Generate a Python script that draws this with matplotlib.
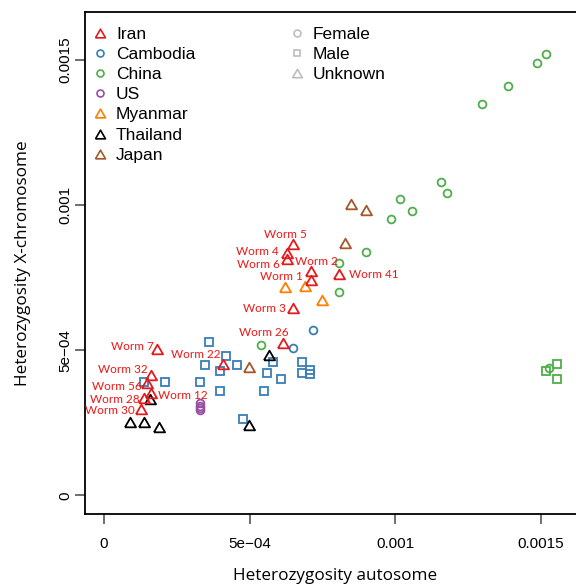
import matplotlib
matplotlib.use("Agg")
import matplotlib.pyplot as plt
from matplotlib.lines import Line2D
from matplotlib.ticker import FixedLocator, FixedFormatter

plt.rcParams['font.family'] = ['Liberation Sans', 'DejaVu Sans']

# ---------------- data ----------------
countries = ["Iran", "Cambodia", "China", "US", "Myanmar", "Thailand", "Japan"]
country_colors = {"Iran": "#E41A1C", "Cambodia": "#377EB8", "China": "#4DAF4A",
                  "US": "#984EA3", "Myanmar": "#FF7F00", "Thailand": "#000000",
                  "Japan": "#A65628"}
sexes = ["Female", "Male", "Unknown"]

# Iran (sex unknown, labelled worms)
iran_labels = ["Worm 5", "Worm 4", "Worm 6", "Worm 2", "Worm 1", "Worm 41", "Worm 3",
               "Worm 26", "Worm 7", "Worm 22", "Worm 32", "Worm 56", "Worm 12",
               "Worm 28", "Worm 30"]
iran_auto = [0.000650, 0.000629, 0.000629, 0.000710, 0.000711, 0.000808, 0.000649,
             0.000616, 0.000182, 0.000408, 0.000161, 0.000149, 0.000161,
             0.000138, 0.000129]
iran_x = [0.000865, 0.000834, 0.000814, 0.000774, 0.000742, 0.000763, 0.000645,
          0.000524, 0.000503, 0.000453, 0.000415, 0.000386, 0.000354,
          0.000335, 0.000297]

myanmar_auto = [0.000621, 0.000689, 0.000748]
myanmar_x = [0.000719, 0.000721, 0.000673]

japan_auto = [0.000848, 0.000899, 0.000827, 0.000499]
japan_x = [0.001004, 0.000983, 0.000871, 0.000441]

thailand_auto = [0.0000902, 0.000139, 0.000190, 0.000159, 0.000568, 0.000499]
thailand_x = [0.000253, 0.000253, 0.000235, 0.000332, 0.000485, 0.000243]

china_f_auto = [0.001515, 0.001486, 0.001386, 0.001297, 0.001156, 0.001176, 0.001017,
                0.001057, 0.000986, 0.000898, 0.000808, 0.000808, 0.000539, 0.001526]
china_f_x = [0.001521, 0.001491, 0.001410, 0.001349, 0.001080, 0.001041, 0.001020,
             0.000981, 0.000951, 0.000839, 0.000800, 0.000702, 0.000518, 0.000438]
china_m_auto = [0.001515, 0.001555, 0.001555]
china_m_x = [0.000430, 0.000452, 0.000400]

cambodia_f_auto = [0.000719, 0.000648]
cambodia_f_x = [0.000570, 0.000509]
cambodia_m_auto = [0.000360, 0.000419, 0.000348, 0.000458, 0.000400, 0.000210, 0.000139,
                   0.000330, 0.000400, 0.000550, 0.000559, 0.000579, 0.000608, 0.000679,
                   0.000679, 0.000707, 0.000707, 0.000479]
cambodia_m_x = [0.000529, 0.000480, 0.000450, 0.000450, 0.000430, 0.000390, 0.000390,
                0.000390, 0.000361, 0.000361, 0.000421, 0.000459, 0.000400, 0.000459,
                0.000421, 0.000432, 0.000417, 0.000262]

us_f_auto = [0.000330, 0.000330, 0.000330, 0.000330]
us_f_x = [0.000318, 0.000308, 0.000301, 0.000294]

xticks = [0, 0.0005, 0.001, 0.0015]
xtick_labels = ["0", "5e\u221204", "0.001", "0.0015"]
yticks = [0, 0.0005, 0.001, 0.0015]
ytick_labels = ["0", "5e\u221204", "0.001", "0.0015"]

# label offsets (points) for the Iran worm names -- layout only
label_offsets = {"Worm 5": (-5.3, 7.2), "Worm 4": (-21.6, 1.2), "Worm 6": (-20.6, -3.6),
                 "Worm 2": (3.8, 6.8), "Worm 1": (-21.6, 2.9), "Worm 41": (24.8, -0.7),
                 "Worm 3": (-20.4, 0), "Worm 26": (-13.9, 7.6), "Worm 7": (-17.3, 1.9),
                 "Worm 22": (-19.2, 6.5), "Worm 32": (-19.7, 3.6), "Worm 56": (-22, -1.9),
                 "Worm 12": (23, -2.4), "Worm 28": (-20.9, -1), "Worm 30": (-22.5, -1)}

# ---------------- figure ----------------
W, H = 576, 584
fig = plt.figure(figsize=(W / 100, H / 100), dpi=100)
ax = fig.add_axes([85 / W, (H - 514) / H, 504 / W, 501.6 / H])
ax.set_xlim(-0.000064, 0.001664)
ax.set_ylim(-0.000064, 0.001664)

tri = [(-1, -0.866), (1, -0.866), (0, 0.866), (-1, -0.866)]
MARK = {"Female": "o", "Male": "s", "Unknown": tri}
MS = {"Female": 5.6, "Male": 5.4, "Unknown": 8.0}
MEW = 1.3


def pts(xs, ys, country, sex):
    ax.plot(xs, ys, ls="none", marker=MARK[sex], ms=MS[sex], mfc="none",
            mec=country_colors[country], mew=MEW, clip_on=False)


pts(cambodia_m_auto, cambodia_m_x, "Cambodia", "Male")
pts(cambodia_f_auto, cambodia_f_x, "Cambodia", "Female")
pts(china_f_auto, china_f_x, "China", "Female")
pts(china_m_auto, china_m_x, "China", "Male")
pts(us_f_auto, us_f_x, "US", "Female")
pts(thailand_auto, thailand_x, "Thailand", "Unknown")
pts(japan_auto, japan_x, "Japan", "Unknown")
pts(myanmar_auto, myanmar_x, "Myanmar", "Unknown")
pts(iran_auto, iran_x, "Iran", "Unknown")

for lab, xa, xx in zip(iran_labels, iran_auto, iran_x):
    ax.annotate(lab, (xa, xx), xytext=label_offsets[lab], textcoords="offset points",
                ha="center", va="center", color="#F21414", fontsize=8.5,
                family=["Lato", "DejaVu Sans"])

# axes styling (R-like)
ax.spines["right"].set_visible(False)
for s in ("left", "top", "bottom"):
    ax.spines[s].set_linewidth(1.3)
ax.xaxis.set_major_locator(FixedLocator(xticks))
ax.xaxis.set_major_formatter(FixedFormatter(xtick_labels))
ax.yaxis.set_major_locator(FixedLocator(yticks))
ax.yaxis.set_major_formatter(FixedFormatter(ytick_labels))
ax.tick_params(direction="out", length=7.5, width=1.2, color="#555555", labelsize=11)
ax.tick_params(axis="x", pad=9)
ax.tick_params(axis="y", pad=1.5)
for t in ax.get_yticklabels():
    t.set_rotation(90)
    t.set_va("center")

ax.set_xlabel("Heterozygosity autosome", family=["Open Sans", "DejaVu Sans"], fontsize=12.3)
ax.set_ylabel("Heterozygosity X-chromosome", family=["Open Sans", "DejaVu Sans"], fontsize=12.3)
ax.xaxis.set_label_coords((335 - 85) / 504, (514 - 568) / 501.6)
ax.yaxis.set_label_coords((31 - 85) / 504, (514 - 263) / 501.6)

# legends
LEG_MS = {"Female": 5.0, "Male": 5.0, "Unknown": 7.0}
h1 = [Line2D([], [], ls="none", marker=MARK["Female"] if c in ("Cambodia", "China", "US") else tri,
             ms=5.0 if c in ("Cambodia", "China", "US") else 7.2, mfc="none",
             mec=country_colors[c], mew=1.2) for c in countries]
h2 = [Line2D([], [], ls="none", marker=MARK[s], ms=LEG_MS[s], mfc="none",
             mec="#BDBDBD", mew=1.2) for s in sexes]
fs = 12.5
common = dict(loc="upper left", frameon=False, fontsize=fs, borderpad=0, borderaxespad=0,
              handlelength=1.0, handletextpad=0.42, labelspacing=0.29,
              bbox_transform=fig.transFigure)
leg1 = ax.legend(h1, countries, bbox_to_anchor=(91.3 / W, 1 - 26.5 / H), **common)
ax.add_artist(leg1)
leg2 = ax.legend(h2, sexes, bbox_to_anchor=(288.3 / W, 1 - 26.5 / H), **common)

fig.savefig("out.png", dpi=100)
